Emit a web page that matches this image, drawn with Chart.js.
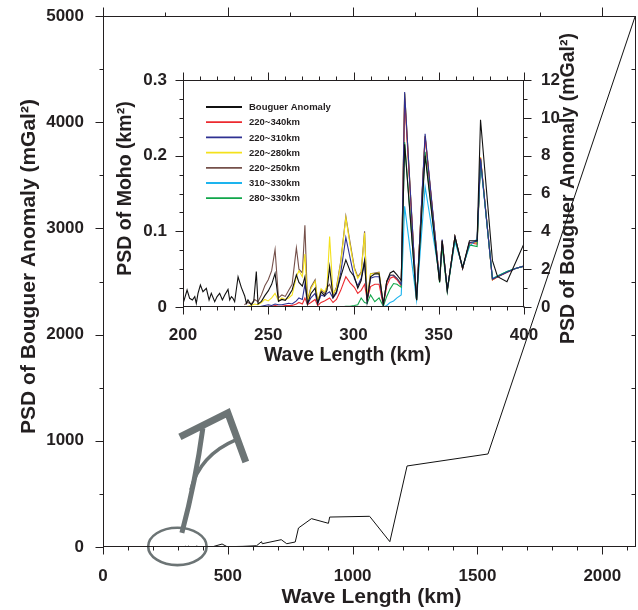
<!DOCTYPE html>
<html>
<head>
<meta charset="utf-8">
<script src="https://cdn.jsdelivr.net/npm/chart.js@4.4.1/dist/chart.umd.min.js"></script>
<style>
html,body{margin:0;padding:0;background:#fff;}
#wrap{position:relative;width:638px;height:610px;overflow:hidden;}
#wrap canvas{position:absolute;left:0;top:0;}
</style>
</head>
<body>
<div id="wrap">
<canvas id="mainChart" width="638" height="610"></canvas>
<canvas id="insetChart" width="638" height="610"></canvas>
</div>
<script>
// ---------------- DATA ----------------
// Main panel: PSD of Bouguer anomaly (mGal^2) vs wave length (km)
const mainLowWaveLength = [50, 120, 190];
const mainLowPSD = [0.4, 0.6, 0.5];
const mainHighWaveLength = [410, 440, 477, 497, 560, 615, 635, 638, 714, 736, 770, 783, 835, 903, 908, 1068, 1149, 1218, 1542, 2132];
const mainHighPSD = [2, 3, 28, 3, 6, 12, 50, 31, 69, 31, 47, 179, 267, 223, 282, 289, 50, 763, 876, 5000];

// Inset: Bouguer anomaly PSD (mGal^2, right axis), 200-400 km
const insetBouguerWaveLength = [200.4, 202.4, 203.9, 205.5, 206.9, 207.8, 208.8, 210.2, 211.7, 213.7, 215.3, 216.6, 218.6, 220.0, 221.5, 223.1, 224.5, 226.4, 227.4, 228.4, 229.3, 230.3, 232.3, 234.2, 236.2, 237.2, 238.1, 240.1, 241.5, 243.0, 244.0, 246, 248, 250, 252, 254, 256, 258, 260, 262, 264, 266.5, 268, 270, 271.5, 273, 275, 277.5, 279, 281, 283, 284.5, 286, 288, 290, 292.5, 295.5, 298, 300.5, 302.5, 304.5, 306.5, 308, 310, 312.5, 315, 317.5, 319.5, 321.5, 323.5, 325.5, 328, 330, 337, 342, 350.5, 352, 355, 359.5, 364, 368, 372.5, 374.5, 381.5, 384.5, 390, 400];
const insetBouguerPSD = [0.28, 0.90, 0.46, 0.37, 0.55, 0.19, 0.72, 1.16, 0.81, 0.99, 0.37, 0.72, 0.28, 0.55, 0.72, 0.37, 0.63, 0.93, 0.37, 0.55, 0.46, 0.28, 1.60, 1.04, 0.58, 0.19, 0.37, 0.10, 0.30, 1.87, 0.16, 0.30, 0.60, 0.85, 1.20, 1.78, 0.30, 0.40, 0.35, 0.60, 0.90, 1.70, 1.30, 1.10, 1.60, 0.15, 0.70, 1.00, 0.20, 0.80, 0.60, 0.90, 2.13, 0.50, 0.80, 1.60, 2.49, 1.90, 1.60, 1.00, 1.40, 2.40, 0.30, 1.60, 1.75, 1.75, 0.15, 1.35, 1.80, 1.90, 1.70, 1.40, 8.60, 0.37, 8.00, 1.33, 3.50, 0.90, 3.72, 2.05, 3.50, 3.50, 9.90, 2.45, 1.60, 1.34, 3.35];

// Inset: PSD of Moho (km^2, left axis) for the filtered bands
const mohoWaveLength = [236, 238, 240, 242, 244, 246, 248, 250, 252, 254, 256, 258, 260, 262, 264, 266.5, 268, 270, 271.5, 273, 275, 277.5, 279, 281, 283, 284.5, 286, 288, 290, 292.5, 295.5, 298, 300.5, 302.5, 304.5, 306.5, 308, 310, 312.5, 315, 317.5, 319.5, 321.5, 323.5, 325.5, 328, 330, 337, 342, 350.5, 352, 355, 359.5, 364, 368, 372.5, 374.5, 381.5, 384.5, 390, 395, 400];
const moho220to340 = [0,0,0,0,0,0,0,0.001,0.001,0.002, 0.001,0.001,0.002,0.002,0.002, 0.004,0.006,0.004,0.012,0.003,0.006,0.010,0.002,0.006,0.008, 0.010,0.012,0.006,0.010,0.022,0.040,0.032,0.026,0.018,0.022, 0.030,0.010,0.027,0.030,0.030,0.002,0.028,0.038,0.040,0.036, 0.028,0.276,0.009,0.225,0.034,0.087,0.022,0.092,0.051,0.085, 0.083,0.197,0.036,0.040,0.046,0.051,0.054];
const moho220to310 = [0,0,0,0,0,0.001,0.002,0.003,0.002,0.004, 0.003,0.003,0.004,0.005,0.004, 0.008,0.012,0.010,0.030,0.004,0.012,0.018,0.004,0.016,0.014, 0.018,0.020,0.012,0.018,0.045,0.092,0.065,0.038,0.028,0.038, 0.062,0.008,0.038,0.040,0.040,0.003,0.033,0.042,0.042,0.038, 0.030,0.284,0.009,0.229,0.034,0.089,0.022,0.093,0.051,0.085, 0.087,0.196,0.037,0.040,0.046,0.051,0.054];
const moho220to280 = [0,0.001,0.002,0.004,0.003,0.006,0.010,0.008,0.012,0.018, 0.008,0.012,0.010,0.012,0.016, 0.040,0.048,0.040,0.070,0.006,0.024,0.034,0.006,0.024,0.020, 0.028,0.093,0.018,0.024,0.058,0.118,0.082,0.050,0.038,0.045, 0.098,0.010,0.044,0.044,0.045,0.003,0.034,0.042,0.042,0.038, 0.030,0.282,0.009,0.226,0.034,0.088,0.022,0.093,0.051,0.085, 0.085,0.198,0.036,0.040,0.046,0.051,0.054];
const moho220to250 = [0.003,0.006,0.004,0.010,0.007,0.016,0.028,0.036,0.048,0.076, 0.012,0.016,0.014,0.022,0.030, 0.078,0.050,0.045,0.108,0.008,0.026,0.036,0.006,0.022,0.018, 0.026,0.030,0.016,0.026,0.060,0.120,0.085,0.052,0.040,0.046, 0.100,0.010,0.044,0.045,0.046,0.003,0.034,0.042,0.042,0.038, 0.030,0.282,0.009,0.226,0.034,0.088,0.022,0.093,0.051,0.085, 0.086,0.198,0.036,0.040,0.046,0.051,0.054];
const moho310to330 = [0,0,0,0,0,0,0,0,0,0, 0,0,0,0,0, 0,0,0,0,0,0,0,0,0,0, 0,0,0,0,0,0,0,0,0,0, 0,0,0,0,0,0,0.002,0.006,0.008,0.012, 0.016,0.133,0.009,0.159,0.040,0.082,0.024,0.086,0.053,0.080, 0.090,0.192,0.038,0.041,0.047,0.051,0.054];
const moho280to330 = [0,0,0,0,0,0,0,0,0,0, 0,0,0,0,0, 0,0,0,0,0,0,0,0,0,0, 0,0,0,0,0,0.001,0.001,0.002,0.003,0.012, 0.006,0.005,0.016,0.007,0.012,0.001,0.014,0.024,0.031,0.030, 0.026,0.218,0.009,0.205,0.032,0.080,0.020,0.090,0.052,0.082, 0.080,0.195,0.037,0.041,0.047,0.051,0.054];

const seriesLabels = ['Bouguer Anomaly', '220~340km', '220~310km', '220~280km', '220~250km', '310~330km', '280~330km'];

// Tick labels
const mainXTicks = [0, 500, 1000, 1500, 2000];
const mainYTicks = [0, 1000, 2000, 3000, 4000, 5000];
const insetXTicks = [200, 250, 300, 350, 400];
const insetLeftTicks = [0, 0.1, 0.2, 0.3];
const insetRightTicks = [0, 2, 4, 6, 8, 10, 12];

// Callout (ellipse + arrow) anchored in main-panel data units (km, mGal^2)
const calloutEllipse = {x: 298, y: 5, rx: 117, ry: 176};
const calloutShaft = [[316, 132], [372, 631], [400, 1120]];
const calloutBranch = [[352, 537], [388, 866], [532, 1008]];
const calloutHead = [[308, 1036], [500, 1262], [572, 800]];

// ---------------- STYLE / HELPERS ----------------
const FONT = '"Liberation Sans", Arial, Helvetica, sans-serif';
const INK = '#231f20';
const CALLOUT = '#6c7475';
const COLORS = {
  'Bouguer Anomaly': '#111111',
  '220~340km': '#ec2a2f',
  '220~310km': '#2e3192',
  '220~280km': '#f4e11c',
  '220~250km': '#75504a',
  '310~330km': '#1db4ee',
  '280~330km': '#10a64a'
};
const range = (a, b, s) => { const o = []; for (let v = a; v <= b + 1e-9; v += s) o.push(+v.toFixed(6)); return o; };
const toXY = (xs, ys) => xs.map((x, i) => ({x: x, y: ys[i]}));
const fixedTicks = list => (scale => { scale.ticks = list.map(v => ({value: v})); });
const fixSize = (prop, size) => (s => {
  s[prop] = size;
  s.paddingTop = 0; s.paddingBottom = 0; s.paddingLeft = 0; s.paddingRight = 0;
});

function drawFrameTicks(chart, specs) {
  const ctx = chart.ctx, a = chart.chartArea;
  ctx.save();
  ctx.strokeStyle = INK;
  ctx.lineWidth = 1;
  ctx.beginPath();
  const L = Math.round(a.left) + 0.5, R = Math.round(a.right) - 0.5, T = Math.round(a.top) + 0.5, B = Math.round(a.bottom) - 0.5;
  for (const s of specs) {
    const sc = chart.scales[s.scale];
    for (const v of s.values) {
      const p = Math.round(sc.getPixelForValue(v)) + 0.5;
      if (s.side === 'bottom') { ctx.moveTo(p, B); ctx.lineTo(p, B + s.len); }
      else if (s.side === 'top') { ctx.moveTo(p, T); ctx.lineTo(p, T - s.len); }
      else if (s.side === 'left') { ctx.moveTo(L, p); ctx.lineTo(L - s.len, p); }
      else { ctx.moveTo(R, p); ctx.lineTo(R + s.len, p); }
    }
  }
  ctx.stroke();
  ctx.strokeRect(L, T, R - L, B - T);
  ctx.restore();
}
function drawLabel(ctx, text, x, y, font, rotate) {
  ctx.save();
  ctx.translate(x, y);
  if (rotate) ctx.rotate(-Math.PI / 2);
  ctx.font = font;
  ctx.fillStyle = INK;
  ctx.textAlign = 'center';
  ctx.textBaseline = 'middle';
  ctx.fillText(text, 0, 0);
  ctx.restore();
}
const TITLE_FONT = 'bold 19.5px ' + FONT;
const MAIN_TITLE_FONT = 'bold 21px ' + FONT;
const TICK_FONT = {family: FONT, size: 17, weight: 'bold'};

// ---------------- MAIN CHART ----------------
const mainPoints = toXY(mainLowWaveLength, mainLowPSD)
  .concat(toXY(insetBouguerWaveLength, insetBouguerPSD))
  .concat(toXY(mainHighWaveLength, mainHighPSD));

const mainDecor = {
  id: 'mainDecor',
  afterDatasetsDraw(chart) {
    const ctx = chart.ctx, xs = chart.scales.x, ys = chart.scales.y;
    const P = pt => [xs.getPixelForValue(pt[0]), ys.getPixelForValue(pt[1])];
    ctx.save();
    ctx.strokeStyle = CALLOUT;
    const cx = xs.getPixelForValue(calloutEllipse.x), cy = ys.getPixelForValue(calloutEllipse.y);
    const rx = Math.abs(xs.getPixelForValue(calloutEllipse.x + calloutEllipse.rx) - cx);
    const ry = Math.abs(ys.getPixelForValue(calloutEllipse.y + calloutEllipse.ry) - cy);
    ctx.lineWidth = 2.6;
    ctx.beginPath();
    ctx.ellipse(cx, cy, rx, ry, 0, 0, Math.PI * 2);
    ctx.stroke();
    let p0 = P(calloutShaft[0]), p1 = P(calloutShaft[1]), p2 = P(calloutShaft[2]);
    ctx.lineWidth = 5;
    ctx.beginPath(); ctx.moveTo(p0[0], p0[1]); ctx.quadraticCurveTo(p1[0], p1[1], p2[0], p2[1]); ctx.stroke();
    p0 = P(calloutBranch[0]); p1 = P(calloutBranch[1]); p2 = P(calloutBranch[2]);
    ctx.lineWidth = 3.5;
    ctx.beginPath(); ctx.moveTo(p0[0], p0[1]); ctx.quadraticCurveTo(p1[0], p1[1], p2[0], p2[1]); ctx.stroke();
    p0 = P(calloutHead[0]); p1 = P(calloutHead[1]); p2 = P(calloutHead[2]);
    ctx.lineWidth = 7;
    ctx.lineJoin = 'miter';
    ctx.beginPath(); ctx.moveTo(p0[0], p0[1]); ctx.lineTo(p1[0], p1[1]); ctx.lineTo(p2[0], p2[1]); ctx.stroke();
    ctx.restore();
  },
  afterDraw(chart) {
    drawFrameTicks(chart, [
      {scale: 'x', side: 'bottom', values: mainXTicks, len: 8},
      {scale: 'x', side: 'bottom', values: range(100, 2100, 100).filter(v => v % 500), len: 4},
      {scale: 'x', side: 'top', values: mainXTicks, len: 9},
      {scale: 'x', side: 'top', values: [250, 750, 1250, 1750], len: 4},
      {scale: 'y', side: 'left', values: mainYTicks, len: 8},
      {scale: 'y', side: 'left', values: range(500, 4500, 1000), len: 4},
      {scale: 'y', side: 'right', values: range(500, 4500, 500), len: -4}
    ]);
    const a = chart.chartArea, ctx = chart.ctx;
    drawLabel(ctx, 'PSD of Bouguer Anomaly (mGal\u00B2)', a.left - 74, (a.top + a.bottom) / 2 - 15, MAIN_TITLE_FONT, true);
    drawLabel(ctx, 'Wave Length (km)', (a.left + a.right) / 2 + 2, a.bottom + 50, MAIN_TITLE_FONT, false);
  }
};

new Chart(document.getElementById('mainChart'), {
  type: 'line',
  data: {
    datasets: [{
      label: 'Bouguer Anomaly',
      data: mainPoints,
      borderColor: '#111111',
      borderWidth: 1,
      pointRadius: 0,
      tension: 0,
      fill: false
    }]
  },
  options: {
    responsive: false,
    animation: false,
    devicePixelRatio: 1,
    events: [],
    layout: {padding: {left: 0, right: 2, top: 16, bottom: 0}},
    plugins: {legend: {display: false}, tooltip: {enabled: false}},
    scales: {
      x: {
        type: 'linear', min: 0, max: 2135,
        afterBuildTicks: fixedTicks(mainXTicks),
        afterFit: fixSize('height', 63),
        grid: {display: false, drawTicks: false},
        border: {display: false},
        ticks: {font: TICK_FONT, color: INK, padding: 19, maxRotation: 0, autoSkip: false, callback: v => String(v)}
      },
      y: {
        type: 'linear', min: 0, max: 5000,
        afterBuildTicks: fixedTicks(mainYTicks),
        afterFit: fixSize('width', 103),
        grid: {display: false, drawTicks: false},
        border: {display: false},
        ticks: {font: TICK_FONT, color: INK, padding: 19, autoSkip: false, callback: v => String(v)}
      }
    }
  },
  plugins: [mainDecor]
});

// ---------------- INSET CHART ----------------
const insetDecor = {
  id: 'insetDecor',
  afterDraw(chart) {
    drawFrameTicks(chart, [
      {scale: 'x', side: 'bottom', values: insetXTicks, len: 8},
      {scale: 'x', side: 'bottom', values: range(210, 390, 10).filter(v => v % 50), len: 4},
      {scale: 'x', side: 'top', values: insetXTicks, len: 8},
      {scale: 'x', side: 'top', values: range(210, 390, 10).filter(v => v % 50), len: 4},
      {scale: 'yL', side: 'left', values: insetLeftTicks, len: 8},
      {scale: 'yL', side: 'left', values: range(0.025, 0.275, 0.025), len: 4},
      {scale: 'yR', side: 'right', values: insetRightTicks, len: 8},
      {scale: 'yR', side: 'right', values: range(1, 11, 2), len: 4}
    ]);
    const a = chart.chartArea, ctx = chart.ctx;
    const midY = (a.top + a.bottom) / 2;
    drawLabel(ctx, 'PSD of Moho (km\u00B2)', a.left - 57, midY - 5, TITLE_FONT, true);
    drawLabel(ctx, 'PSD of Bouguer Anomaly (mGal\u00B2)', a.right + 45, midY - 5, TITLE_FONT, true);
    drawLabel(ctx, 'Wave Length (km)', (a.left + a.right) / 2 - 6, a.bottom + 49, TITLE_FONT, false);
    ctx.save();
    ctx.font = 'bold 9.5px ' + FONT;
    ctx.textBaseline = 'middle';
    ctx.textAlign = 'left';
    seriesLabels.forEach((lab, i) => {
      const y = a.top + 27 + i * 15.2;
      ctx.strokeStyle = COLORS[lab];
      ctx.lineWidth = 1.8;
      ctx.beginPath(); ctx.moveTo(a.left + 23, y); ctx.lineTo(a.left + 59, y); ctx.stroke();
      ctx.fillStyle = INK;
      ctx.fillText(lab, a.left + 66, y + 0.5);
    });
    ctx.restore();
  }
};

const lineDs = (label, xs, ys, axis) => ({
  label: label,
  data: toXY(xs, ys),
  yAxisID: axis,
  borderColor: COLORS[label],
  borderWidth: 1.1,
  pointRadius: 0,
  tension: 0,
  fill: false
});

new Chart(document.getElementById('insetChart'), {
  type: 'line',
  data: {
    datasets: [
      lineDs('Bouguer Anomaly', insetBouguerWaveLength, insetBouguerPSD, 'yR'),
      lineDs('220~310km', mohoWaveLength, moho220to310, 'yL'),
      lineDs('280~330km', mohoWaveLength, moho280to330, 'yL'),
      lineDs('310~330km', mohoWaveLength, moho310to330, 'yL'),
      lineDs('220~340km', mohoWaveLength, moho220to340, 'yL'),
      lineDs('220~280km', mohoWaveLength, moho220to280, 'yL'),
      lineDs('220~250km', mohoWaveLength, moho220to250, 'yL')
    ]
  },
  options: {
    responsive: false,
    animation: false,
    devicePixelRatio: 1,
    events: [],
    layout: {padding: {left: 0, right: 0, top: 80, bottom: 0}},
    plugins: {legend: {display: false}, tooltip: {enabled: false}},
    scales: {
      x: {
        type: 'linear', min: 200, max: 400,
        afterBuildTicks: fixedTicks(insetXTicks),
        afterFit: fixSize('height', 303),
        grid: {display: false, drawTicks: false},
        border: {display: false},
        ticks: {font: TICK_FONT, color: INK, padding: 18, maxRotation: 0, autoSkip: false, callback: v => String(v)}
      },
      yL: {
        type: 'linear', position: 'left', min: 0, max: 0.3,
        afterBuildTicks: fixedTicks(insetLeftTicks),
        afterFit: fixSize('width', 183),
        grid: {display: false, drawTicks: false},
        border: {display: false},
        ticks: {font: TICK_FONT, color: INK, padding: 16, autoSkip: false, callback: v => String(v)}
      },
      yR: {
        type: 'linear', position: 'right', min: 0, max: 12,
        afterBuildTicks: fixedTicks(insetRightTicks),
        afterFit: fixSize('width', 114),
        grid: {display: false, drawTicks: false},
        border: {display: false},
        ticks: {font: TICK_FONT, color: INK, padding: 17, autoSkip: false, callback: v => String(v)}
      }
    }
  },
  plugins: [insetDecor]
});
</script>
</body>
</html>
